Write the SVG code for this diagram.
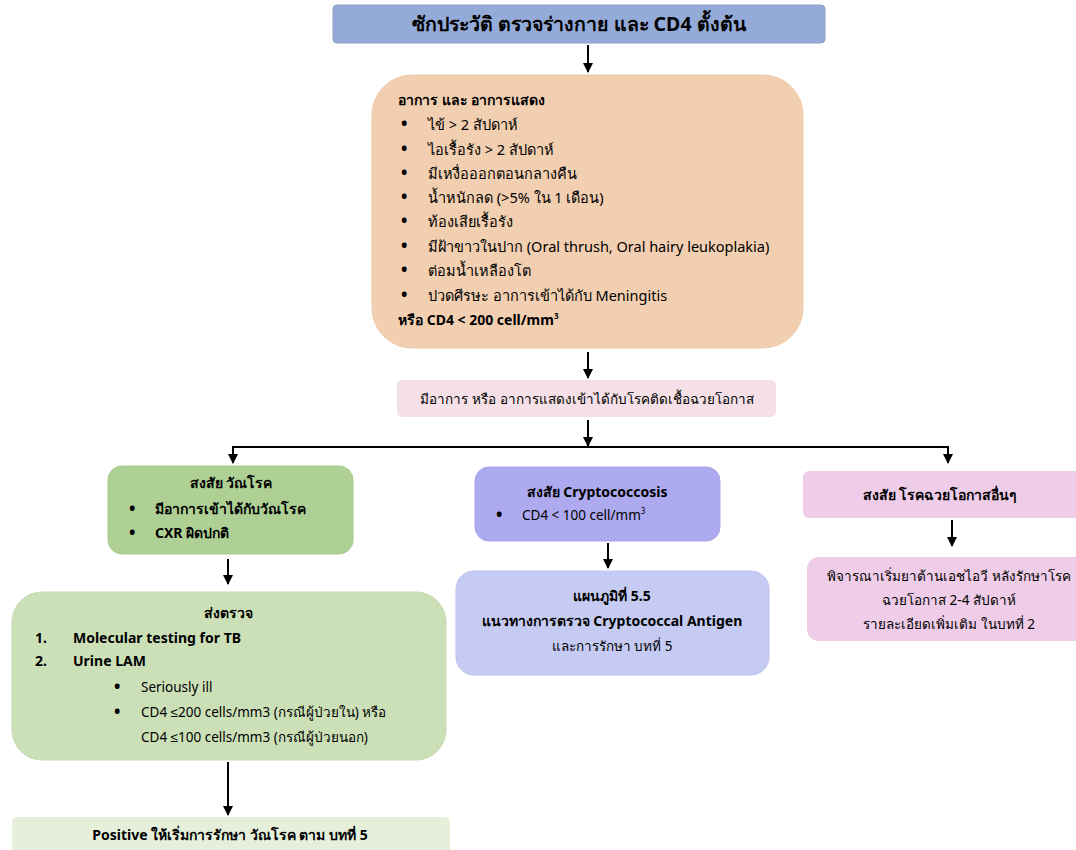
<svg xmlns="http://www.w3.org/2000/svg" width="1076" height="850" viewBox="0 0 1076 850">
  <defs>
    <marker id="arrow" viewBox="0 0 10 10" refX="9" refY="5" markerWidth="10" markerHeight="10" markerUnits="userSpaceOnUse" orient="auto">
      <path d="M0,0 L10,5 L0,10 z" fill="#000"/>
    </marker>
    <style>
      text { font-family: "Noto Sans", "Liberation Sans", sans-serif; font-size: 13.5px; fill: #000; }
      .b { font-weight: bold; font-size: 14px; }
      .c { text-anchor: middle; }
      .big { font-size: 14.5px; }
      .dot { font-size: 17px; font-weight: bold; }
      .title { font-size: 19.5px; font-weight: bold; }
      .sup { font-size: 8px; }
      .wire { stroke: #000; stroke-width: 2; fill: none; }
    </style>
  </defs>
  <rect width="1076" height="850" fill="#fff"/>

  <g id="connectors">
    <line class="wire" x1="588" y1="45" x2="588" y2="72" marker-end="url(#arrow)"/>
    <line class="wire" x1="588" y1="352" x2="588" y2="378" marker-end="url(#arrow)"/>
    <line class="wire" x1="588" y1="420" x2="588" y2="446" marker-end="url(#arrow)"/>
    <polyline class="wire" points="233,463 233,447 948,447 948,463" marker-end="url(#arrow)"/>
    <line class="wire" x1="233" y1="447" x2="233" y2="463" marker-end="url(#arrow)"/>
    <line class="wire" x1="228" y1="559" x2="228" y2="584" marker-end="url(#arrow)"/>
    <line class="wire" x1="608" y1="543" x2="608" y2="568" marker-end="url(#arrow)"/>
    <line class="wire" x1="952" y1="520" x2="952" y2="546" marker-end="url(#arrow)"/>
    <line class="wire" x1="228" y1="762" x2="228" y2="815" marker-end="url(#arrow)"/>
  </g>

  <g id="history">
    <rect x="333" y="5" width="492" height="38" rx="4" fill="#94aad8" stroke="#8aa0d0"/>
    <text class="title c" x="579" y="31">ซักประวัติ ตรวจร่างกาย และ CD4 ตั้งต้น</text>
  </g>

  <g id="symptoms">
    <rect x="372" y="75" width="431" height="273" rx="40" fill="#f2cfb0" stroke="#efc9a8"/>
    <text class="b" x="398" y="105">อาการ และ อาการแสดง</text>
    <text class="dot" x="401" y="130">•</text><text class="big" x="428" y="130">ไข้ &gt; 2 สัปดาห์</text>
    <text class="dot" x="401" y="155">•</text><text class="big" x="428" y="155">ไอเรื้อรัง &gt; 2 สัปดาห์</text>
    <text class="dot" x="401" y="179">•</text><text class="big" x="428" y="179">มีเหงื่อออกตอนกลางคืน</text>
    <text class="dot" x="401" y="203">•</text><text class="big" x="428" y="203">น้ำหนักลด (&gt;5% ใน 1 เดือน)</text>
    <text class="dot" x="401" y="227">•</text><text class="big" x="428" y="227">ท้องเสียเรื้อรัง</text>
    <text class="dot" x="401" y="252">•</text><text class="big" x="428" y="252">มีฝ้าขาวในปาก (Oral thrush, Oral hairy leukoplakia)</text>
    <text class="dot" x="401" y="276">•</text><text class="big" x="428" y="276">ต่อมน้ำเหลืองโต</text>
    <text class="dot" x="401" y="301">•</text><text class="big" x="428" y="301">ปวดศีรษะ อาการเข้าได้กับ Meningitis</text>
    <text class="b" x="398" y="325">หรือ CD4 &lt; 200 cell/mm<tspan class="sup" dy="-6">3</tspan></text>
  </g>

  <g id="oi-signs">
    <rect x="397" y="380" width="379" height="37" rx="5" fill="#f4e0e6"/>
    <text class="c" x="587" y="404">มีอาการ หรือ อาการแสดงเข้าได้กับโรคติดเชื้อฉวยโอกาส</text>
  </g>

  <g id="suspect-tb">
    <rect x="108" y="466" width="245" height="88" rx="14" fill="#afd095" stroke="#a8cb8d"/>
    <text class="b c" x="231" y="488">สงสัย วัณโรค</text>
    <text class="dot" x="129" y="515">•</text><text class="b" x="155" y="514">มีอาการเข้าได้กับวัณโรค</text>
    <text class="dot" x="129" y="539">•</text><text class="b" x="155" y="538">CXR ผิดปกติ</text>
  </g>

  <g id="suspect-crypto">
    <rect x="475" y="467" width="245" height="74" rx="14" fill="#aeaaf0" stroke="#a6a2ea"/>
    <text class="b c" x="597" y="497">สงสัย Cryptococcosis</text>
    <text class="dot" x="496" y="521">•</text><text x="522" y="520">CD4 &lt; 100 cell/mm<tspan class="sup" dy="-6">3</tspan></text>
  </g>

  <g id="suspect-other">
    <rect x="803" y="471" width="280" height="47" rx="6" fill="#efcce8"/>
    <text class="b c" x="940" y="500">สงสัย โรคฉวยโอกาสอื่นๆ</text>
  </g>

  <g id="tb-tests">
    <rect x="12" y="592" width="434" height="168" rx="30" fill="#cce0b8" stroke="#c6dcb0"/>
    <text class="b c" x="228" y="618">ส่งตรวจ</text>
    <text class="b" x="35" y="643">1.</text><text class="b" x="73" y="643">Molecular testing for TB</text>
    <text class="b" x="35" y="666">2.</text><text class="b" x="73" y="666">Urine LAM</text>
    <text class="dot" x="114" y="693">•</text><text x="141" y="692">Seriously ill</text>
    <text class="dot" x="114" y="718">•</text><text x="141" y="717">CD4 ≤200 cells/mm3 (กรณีผู้ป่วยใน) หรือ</text>
    <text x="141" y="742">CD4 ≤100 cells/mm3 (กรณีผู้ป่วยนอก)</text>
  </g>

  <g id="tb-positive">
    <rect x="12" y="817" width="438" height="40" rx="5" fill="#e5efd9"/>
    <text class="b c" x="230" y="840">Positive ให้เริ่มการรักษา วัณโรค ตาม บทที่ 5</text>
  </g>

  <g id="crag-chart">
    <rect x="456" y="571" width="313" height="104" rx="18" fill="#c5cbf2" stroke="#bcc3ee"/>
    <text class="b c" x="612" y="601">แผนภูมิที่ 5.5</text>
    <text class="b c" x="612" y="626">แนวทางการตรวจ Cryptococcal Antigen</text>
    <text class="c" x="612" y="651">และการรักษา บทที่ 5</text>
  </g>

  <g id="art-start">
    <rect x="807" y="557" width="280" height="84" rx="12" fill="#efcce8"/>
    <text class="c" x="949" y="581">พิจารณาเริ่มยาต้านเอชไอวี หลังรักษาโรค</text>
    <text class="c" x="949" y="605">ฉวยโอกาส 2-4 สัปดาห์</text>
    <text class="c" x="949" y="629">รายละเอียดเพิ่มเติม ในบทที่ 2</text>
  </g>
</svg>
